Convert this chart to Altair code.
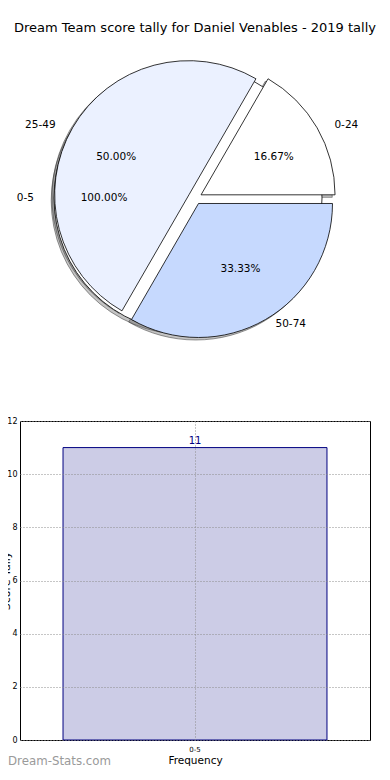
import altair as alt
import pandas as pd

# ---------------- data ----------------
chart_title = "Dream Team score tally for Daniel Venables - 2019 tally"

pie_groups = ["whole", "main", "main", "main"]
pie_labels = ["0-5", "0-24", "25-49", "50-74"]
pie_counts = [1, 1, 3, 2]
pie_order = [0, 0, 1, 2]
pie_colors = ["#ffffff", "#ffffff", "#ebf1ff", "#c6d9fe"]

bar_categories = ["0-5"]
bar_values = [11]
y_ticks = [0, 2, 4, 6, 8, 10, 12]

watermark = ["Dream-Stats.com"]

# ---------------- layout constants (pixels, view coordinates) ----------------
W, H = 350, 319
CX, CY = 175, -223       # pie centre relative to the bar plot's top-left corner
RX, RY = 140, 127        # label ellipse radii
R = 134                  # wedge radius
EXP = 0.05               # explode fraction
FONT = "DejaVu Sans"

pie_df = pd.DataFrame({
    "pie": pie_groups,
    "label": pie_labels,
    "count": pie_counts,
    "idx": pie_order,
    "color": pie_colors,
})
bar_df = pd.DataFrame({"cat": bar_categories, "value": bar_values})
wm_df = pd.DataFrame({"text": watermark})

pie_base = (
    alt.Chart(pie_df)
    .transform_joinaggregate(total="sum(count)", groupby=["pie"])
    .transform_window(c1="sum(count)", groupby=["pie"], sort=[alt.SortField("idx")])
    .transform_calculate(c0="datum.c1 - datum.count")
    .transform_calculate(
        a0="2*PI*datum.c0/datum.total",
        a1="2*PI*datum.c1/datum.total",
    )
    .transform_calculate(
        am="(datum.a0 + datum.a1)/2",
        th0="2.5*PI - datum.a0",
        th1="2.5*PI - datum.a1",
    )
    .transform_calculate(
        px=f"{CX} + {EXP}*{RX}*cos(datum.am)",
        py=f"{CY} - {EXP}*{RY}*sin(datum.am)",
        lx=f"{CX} + {EXP + 1.1}*{RX}*cos(datum.am)",
        ly=f"{CY} - {EXP + 1.1}*{RY}*sin(datum.am)",
        tx=f"{CX} + {EXP + 0.6}*{RX}*cos(datum.am)",
        ty=f"{CY} - {EXP + 0.6}*{RY}*sin(datum.am)",
        pct="format(100*datum.count/datum.total, '.2f') + '%'",
        right="cos(datum.am) >= 0 ? 1 : 0",
    )
    .transform_calculate(
        sx="datum.px - 2.8",
        sy="datum.py + 2.5",
    )
)

shadow = pie_base.mark_arc(outerRadius=R, fill="#555555", fillOpacity=0.35,
                           stroke="#333333", strokeOpacity=0.5, strokeWidth=1).encode(
    x=alt.X("sx:Q", scale=None, axis=None),
    y=alt.Y("sy:Q", scale=None, axis=None),
    theta=alt.Theta("th0:Q", scale=None),
    theta2=alt.Theta2("th1:Q"),
)

wedges = pie_base.mark_arc(outerRadius=R, stroke="black", strokeWidth=0.8).encode(
    x=alt.X("px:Q", scale=None, axis=None),
    y=alt.Y("py:Q", scale=None, axis=None),
    theta=alt.Theta("th0:Q", scale=None),
    theta2=alt.Theta2("th1:Q"),
    color=alt.Color("color:N", scale=None),
)

labels_right = pie_base.transform_filter("datum.right == 1").mark_text(
    align="left", baseline="middle", fontSize=10.5, font=FONT, color="black"
).encode(
    x=alt.X("lx:Q", scale=None, axis=None),
    y=alt.Y("ly:Q", scale=None, axis=None),
    text="label:N",
)
labels_left = pie_base.transform_filter("datum.right == 0").mark_text(
    align="right", baseline="middle", fontSize=10.5, font=FONT, color="black"
).encode(
    x=alt.X("lx:Q", scale=None, axis=None),
    y=alt.Y("ly:Q", scale=None, axis=None),
    text="label:N",
)
pct_labels = pie_base.mark_text(
    align="center", baseline="middle", fontSize=10.5, font=FONT, color="black"
).encode(
    x=alt.X("tx:Q", scale=None, axis=None),
    y=alt.Y("ty:Q", scale=None, axis=None),
    text="pct:N",
)

pie_layer = alt.layer(shadow, wedges, labels_right, labels_left, pct_labels)

grid_style = dict(gridDash=[1, 2], gridColor="#8c8c8c", gridWidth=1)

bar_base = alt.Chart(bar_df).encode(
    x=alt.X(
        "cat:N",
        scale=alt.Scale(paddingInner=0, paddingOuter=0.163),
        axis=alt.Axis(
            orient="bottom",
            title="Frequency", labelAngle=0, labelFontSize=7, labelPadding=5,
            labelColor="black", titleColor="black", titleFontSize=10.5,
            titleFontWeight="normal", titlePadding=3, ticks=False, domain=False,
            grid=True, bandPosition=0.5, zindex=1, labelFont=FONT, titleFont=FONT,
            **grid_style,
        ),
    ),
    y=alt.Y(
        "value:Q",
        scale=alt.Scale(domain=[0, 12], nice=False),
        axis=alt.Axis(
            orient="left",
            values=y_ticks, format="d", title="Score Tally", titleX=-9,
            titleFontSize=11, titleFontWeight="normal", titleColor="black",
            labelFontSize=8, labelPadding=3, labelColor="black", ticks=False,
            domain=False, grid=True, zindex=1, labelFont=FONT, titleFont=FONT,
            **grid_style,
        ),
    ),
)
bars = bar_base.mark_bar(fill="#ccccE6", stroke="#000080", strokeWidth=1)
bar_text = bar_base.mark_text(
    baseline="alphabetic", dy=-4, fontSize=10, color="#000080", font=FONT
).encode(text="value:Q")

bar_layer = alt.layer(bars, bar_text)

wm = alt.Chart(wm_df).mark_text(
    align="left", baseline="middle", fontSize=11.8, color="#9a9a9a", font=FONT
).encode(
    x=alt.value(-12),
    y=alt.value(340),
    text="text:N",
)

chart = (
    alt.layer(bar_layer, pie_layer, wm)
    .resolve_scale(x="independent", y="independent")
    .properties(
        width=W,
        height=H,
        title=alt.TitleParams(chart_title, fontSize=13, fontWeight="normal",
                              font=FONT, color="black", anchor="middle", offset=24),
        autosize=alt.AutoSizeParams(type="none"),
        padding={"left": 12, "top": 413, "right": 12, "bottom": 30},
    )
    .configure_view(stroke="black", strokeWidth=1)
)

chart.save("out.html", embed_options={"renderer": "svg", "actions": False})
